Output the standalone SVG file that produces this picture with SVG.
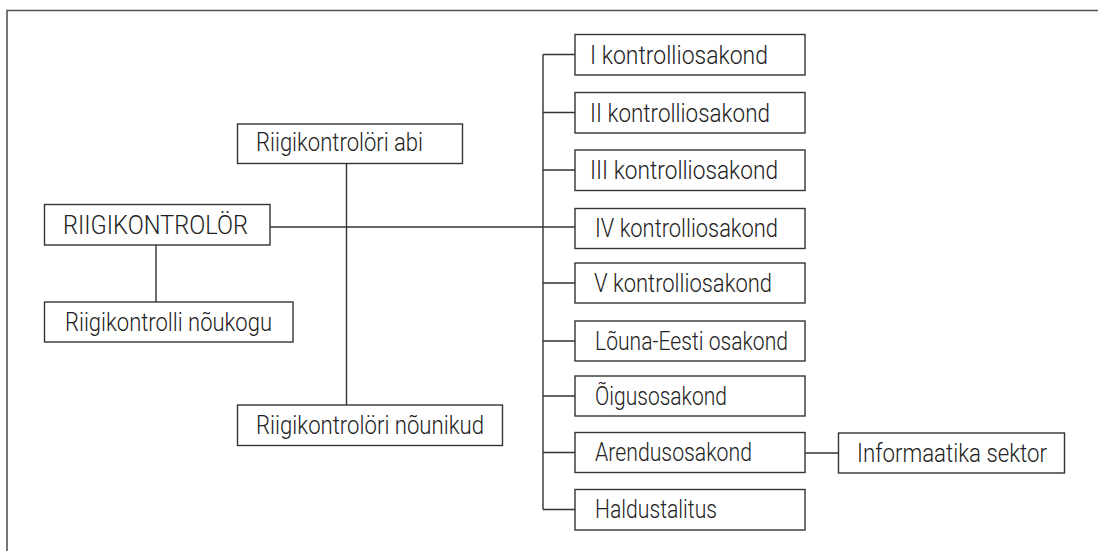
<svg xmlns="http://www.w3.org/2000/svg" width="1098" height="551" viewBox="0 0 1098 551">
<style>
.box{fill:#fff;stroke:#333;stroke-width:1.4}
.t{font-family:Roboto,"Liberation Sans",Arial,sans-serif;font-weight:300;font-size:26px;fill:#222}
.ln{fill:none;stroke:#333;stroke-width:1.4}
.frame{fill:none;stroke:#555;stroke-width:1.6}
</style>
<rect width="1098" height="551" fill="#fff"/>
<path class="frame" d="M7,560 V10.5 H1110"/>
<g id="connectors">
<path class="ln" d="M270,227 H575"/>
<path class="ln" d="M156,245 V302"/>
<path class="ln" d="M346.5,163.5 V405"/>
<path class="ln" d="M543,54.5 V509.5"/>
<path class="ln" d="M543,54.5 H575 M543,112.5 H575 M543,170 H575 M543,283 H575 M543,341 H575 M543,396 H575 M543,452.5 H575 M543,509.5 H575"/>
<path class="ln" d="M805,453 H838"/>
</g>
<g id="n_abi"><rect class="box" x="237.5" y="124" width="225" height="39.5"/><text class="t" x="256" y="151" textLength="167" lengthAdjust="spacingAndGlyphs">Riigikontrolöri abi</text></g>
<g id="n_rk"><rect class="box" x="44.5" y="204.5" width="225.5" height="40.5"/><text class="t" x="63" y="233.5" textLength="185" lengthAdjust="spacingAndGlyphs">RIIGIKONTROLÖR</text></g>
<g id="n_noukogu"><rect class="box" x="44.5" y="302" width="248.5" height="40"/><text class="t" x="65" y="330.5" textLength="207" lengthAdjust="spacingAndGlyphs">Riigikontrolli nõukogu</text></g>
<g id="n_nounikud"><rect class="box" x="237.5" y="405" width="265" height="40.5"/><text class="t" x="256" y="433.5" textLength="228" lengthAdjust="spacingAndGlyphs">Riigikontrolöri nõunikud</text></g>
<g id="n_1"><rect class="box" x="575" y="34.5" width="230" height="40.5"/><text class="t" x="590" y="63.5" textLength="178" lengthAdjust="spacingAndGlyphs">I kontrolliosakond</text></g>
<g id="n_2"><rect class="box" x="575" y="92.5" width="230" height="40.5"/><text class="t" x="590" y="121.5" textLength="180" lengthAdjust="spacingAndGlyphs">II kontrolliosakond</text></g>
<g id="n_3"><rect class="box" x="575" y="150" width="230" height="40.5"/><text class="t" x="590" y="179" textLength="188" lengthAdjust="spacingAndGlyphs">III kontrolliosakond</text></g>
<g id="n_4"><rect class="box" x="575" y="208.5" width="230" height="40"/><text class="t" x="595" y="237" textLength="183" lengthAdjust="spacingAndGlyphs">IV kontrolliosakond</text></g>
<g id="n_5"><rect class="box" x="575" y="263" width="230" height="40"/><text class="t" x="594" y="291.5" textLength="178" lengthAdjust="spacingAndGlyphs">V kontrolliosakond</text></g>
<g id="n_louna"><rect class="box" x="575" y="321" width="230" height="40"/><text class="t" x="595" y="349.5" textLength="193" lengthAdjust="spacingAndGlyphs">Lõuna-Eesti osakond</text></g>
<g id="n_oigus"><rect class="box" x="575" y="376" width="230" height="40"/><text class="t" x="595" y="404.5" textLength="132" lengthAdjust="spacingAndGlyphs">Õigusosakond</text></g>
<g id="n_arendus"><rect class="box" x="575" y="432.5" width="230" height="40"/><text class="t" x="595" y="461" textLength="157" lengthAdjust="spacingAndGlyphs">Arendusosakond</text></g>
<g id="n_haldus"><rect class="box" x="575" y="489.5" width="230" height="40.5"/><text class="t" x="595" y="518" textLength="122" lengthAdjust="spacingAndGlyphs">Haldustalitus</text></g>
<g id="n_info"><rect class="box" x="838.5" y="433" width="226" height="40"/><text class="t" x="857" y="461.5" textLength="190" lengthAdjust="spacingAndGlyphs">Informaatika sektor</text></g>
</svg>
